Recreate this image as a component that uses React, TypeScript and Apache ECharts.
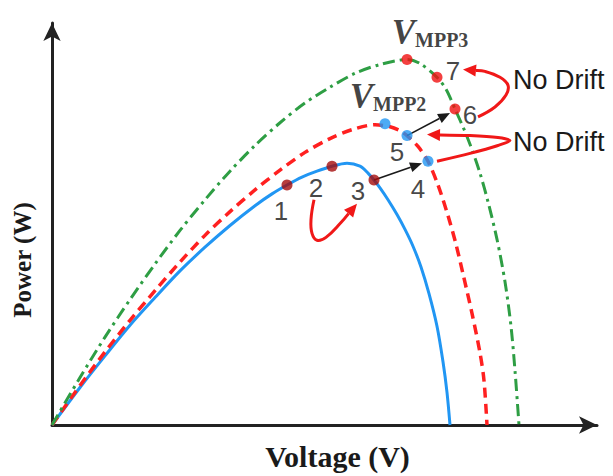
import React, { useEffect, useRef } from 'react';
import * as echarts from 'echarts';

// P-V curves (voltage, power) for three irradiance levels
const curveLow = [[0,0],[28,38],[53,70],[78,101],[103,129],[128,156],[153,180],[178,202],[203,222],[220,234],[235,243],[250,251],[265,257],[280,262],[295,265],[308,262],[316,255],[322,248],[328,240],[336,228],[345,213],[353,198],[361,181],[369,160],[377,133],[385,100],[391,64],[395,33],[398,0]];
const curveMid = [[0,0],[28,40],[53,74],[78,106],[103,136],[128,165],[153,192],[178,216],[203,238],[228,258],[253,276],[278,290],[300,299],[323,304],[338,302],[348,298],[355,293],[366,282],[376,267],[386,243],[396,212],[404,183],[411,153],[420,113],[428,73],[432,45],[435,0]];
const curveHigh = [[0,0],[28,48],[53,89],[78,127],[103,163],[128,197],[153,228],[178,257],[203,283],[228,306],[253,326],[278,342],[303,356],[328,365],[355,370],[368,366],[385,352],[394,340],[403,320],[413,297],[421,276],[428,255],[436,226],[445,188],[453,145],[459,100],[463,55],[467,0]];

// operating points
const pointsLow = [[235,243],[280,262],[322,248]];
const pointsLowLabels = ['1','2','3'];
const pointsMid = [[376,267],[355,293]];
const pointsMidLabels = ['4','5'];
const pointsHigh = [[403,320],[385,352]];
const pointsHighLabels = ['6','7'];
const mppMid = [333,305];
const mppHigh = [355,370];

// arrows
const stepArrow34 = [[322,248],[370,265]];
const stepArrow56 = [[355,293],[398,316]];
const loop23 = [[262,228],[259,208],[260,194],[265,187],[274,190],[289,205],[305,224]];
const loop67 = [[426,312],[443,322],[454,334],[456,344],[448,352],[433,358],[411,360]];
const loop45 = [[385,267],[418,275],[446,283],[458,288],[446,291],[418,293],[375,294]];
const noDriftText = 'No Drift';
const xTitle = 'Voltage (V)';
const yTitle = 'Power (W)';

const labelOffsets: Record<string, number[]> = {
  '1': [-6, 26], '2': [-16, 22], '3': [-16, 11], '4': [-10, 28], '5': [-10, 16], '6': [15, 6], '7': [16, -6],
};

function arrowSeries(points: number[][], color: string, width: number, smooth: number, head: number[], note?: { text: string; dx: number; dy: number }) {
  return {
    type: 'custom',
    coordinateSystem: 'cartesian2d',
    data: [points[0]],
    z: 6,
    silent: true,
    renderItem: (_params: any, api: any) => {
      const pts = points.map((p) => api.coord(p));
      const n = pts.length;
      const [tx, ty] = pts[n - 1];
      const [px, py] = pts[n - 2];
      const ang = Math.atan2(ty - py, tx - px);
      const L = head[0], W = head[1];
      const c = Math.cos(ang), s = Math.sin(ang);
      const base = [tx - L * c, ty - L * s];
      const left = [base[0] + W * s, base[1] - W * c];
      const right = [base[0] - W * s, base[1] + W * c];
      const linePts = [...pts.slice(0, n - 1), base];
      const children: any[] = [
        { type: 'polyline', shape: { points: linePts, smooth }, style: { stroke: color, lineWidth: width, fill: null } },
        { type: 'polygon', shape: { points: [[tx, ty], left, right] }, style: { fill: color } },
      ];
      if (note) {
        let rx = pts[0][0], ry = pts[0][1];
        pts.forEach((p: number[]) => { if (p[0] > rx) { rx = p[0]; ry = p[1]; } });
        children.push({
          type: 'text',
          x: rx + note.dx,
          y: ry + note.dy,
          style: { text: note.text, font: '27px "Liberation Sans", Arial, sans-serif', fill: '#1a1a1a', verticalAlign: 'middle', align: 'left' },
        });
      }
      return { type: 'group', children };
    },
  };
}

function pointSeries(pts: number[][], labels: string[], color: string) {
  return {
    type: 'scatter',
    z: 8,
    symbolSize: 11,
    itemStyle: { color },
    data: pts.map((p, i) => ({
      value: p,
      label: {
        show: true,
        formatter: labels[i],
        position: 'inside',
        offset: labelOffsets[labels[i]],
        fontFamily: '"Liberation Sans", Arial, sans-serif',
        fontSize: 26,
        color: '#161616',
      },
    })),
  };
}

function mppSeries(p: number[], sub: string, color: string, offset: number[]) {
  return {
    type: 'scatter',
    z: 8,
    symbolSize: 11,
    itemStyle: { color },
    data: [{
      value: p,
      label: {
        show: true,
        position: 'top',
        distance: 4,
        offset,
        formatter: '{v|V}{s|' + sub + '}',
        rich: {
          v: { fontFamily: '"Liberation Serif", "Times New Roman", serif', fontStyle: 'italic', fontWeight: 'bold', fontSize: 35, color: '#111', verticalAlign: 'bottom' },
          s: { fontFamily: '"Liberation Serif", "Times New Roman", serif', fontWeight: 'bold', fontSize: 20, color: '#111', verticalAlign: 'bottom' },
        },
      },
    }],
  };
}

export default function App() {
  const ref = useRef<HTMLDivElement>(null);
  useEffect(() => {
    if (!ref.current) return;
    const chart = echarts.init(ref.current, null, { renderer: 'svg' });
    const axisLine = { show: true, symbol: ['none', 'arrow'], symbolSize: [13, 18], lineStyle: { color: '#222', width: 3 } };
    chart.setOption({
      animation: false,
      backgroundColor: '#fff',
      grid: { left: 52, right: 16, top: 23, bottom: 46 },
      xAxis: {
        type: 'value', min: 0, max: 545,
        axisLine, axisTick: { show: false }, axisLabel: { show: false }, splitLine: { show: false },
        name: xTitle, nameLocation: 'middle', nameGap: 16,
        nameTextStyle: { fontFamily: '"Liberation Serif", "Times New Roman", serif', fontWeight: 'bold', fontSize: 30, color: '#1a1a1a', verticalAlign: 'top', padding: [0, 0, 0, 26] },
      },
      yAxis: {
        type: 'value', min: 0, max: 407,
        axisLine, axisTick: { show: false }, axisLabel: { show: false }, splitLine: { show: false },
      },
      graphic: [{
        type: 'text',
        x: 22,
        y: 260,
        rotation: Math.PI / 2,
        style: { text: yTitle, font: 'bold 25px "Liberation Serif", "Times New Roman", serif', fill: '#1a1a1a', align: 'center', verticalAlign: 'middle' },
      }],
      series: [
        { type: 'line', data: curveLow, showSymbol: false, smooth: 0.3, z: 3, lineStyle: { color: '#2196f3', width: 3 } },
        { type: 'line', data: curveMid, showSymbol: false, smooth: 0.3, z: 3, lineStyle: { color: '#ff2020', width: 3.5, type: [10, 6] } },
        { type: 'line', data: curveHigh, showSymbol: false, smooth: 0.3, z: 3, lineStyle: { color: '#2e9e44', width: 3, type: [12, 5, 3, 5] } },
        arrowSeries(stepArrow34, '#1a1a1a', 1.6, 0, [12, 5]),
        arrowSeries(stepArrow56, '#1a1a1a', 1.6, 0, [12, 5]),
        arrowSeries(loop23, '#f01818', 3, 0.4, [13, 6]),
        arrowSeries(loop67, '#f01818', 3, 0.4, [13, 6], { text: noDriftText, dx: 5, dy: -5 }),
        arrowSeries(loop45, '#f01818', 3, 0.3, [13, 6], { text: noDriftText, dx: 3, dy: 1 }),
        pointSeries(pointsLow, pointsLowLabels, '#a50d0d'),
        pointSeries(pointsMid, pointsMidLabels, '#2196f3'),
        pointSeries(pointsHigh, pointsHighLabels, '#f01010'),
        mppSeries(mppMid, 'MPP2', '#2196f3', [3, 0]),
        mppSeries(mppHigh, 'MPP3', '#f01010', [23, 0]),
      ],
    });
    return () => chart.dispose();
  }, []);
  return <div ref={ref} style={{ position: 'fixed', left: 0, top: 0, width: 613, height: 476 }} />;
}
